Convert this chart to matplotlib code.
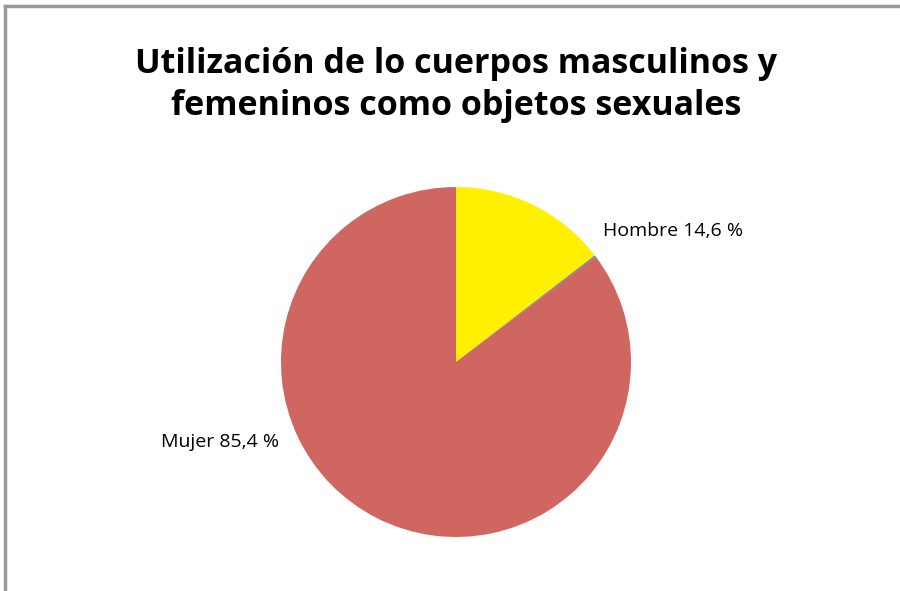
import matplotlib.pyplot as plt
from matplotlib.lines import Line2D

# data
categories = ['Hombre', '', 'Mujer']
values = [14.6, 0.12, 85.4]
labels = ['Hombre 14,6 %', '', 'Mujer 85,4 %']
colors = ['#FFF000', '#4F81BD', '#CF6660']
title = 'Utilización de lo cuerpos masculinos y\nfemeninos como objetos sexuales'

plt.rcParams['font.family'] = ['Open Sans', 'DejaVu Sans']

W, H = 900, 591
fig = plt.figure(figsize=(W / 100, H / 100), dpi=100)

# outer chart frame (only left and top edges visible)
fig.add_artist(Line2D([5 / W, 5 / W], [0, 1 - 6 / H], color='#999999', lw=2.5,
                      transform=fig.transFigure))
fig.add_artist(Line2D([5 / W, 1], [1 - 6 / H, 1 - 6 / H], color='#999999', lw=2.5,
                      transform=fig.transFigure))

fig.text(456 / W, 1 - 85 / H, title, ha='center', va='center', fontsize=24.5,
         fontweight='bold', linespacing=1.3)

cx, cy, r = 456, H - 362, 175
box = 200
ax = fig.add_axes([(cx - box) / W, (cy - box) / H, 2 * box / W, 2 * box / H])
ax.pie(values, colors=colors, startangle=90, counterclock=False, radius=r / box,
       wedgeprops={'linewidth': 0})
ax.set_xlim(-1, 1)
ax.set_ylim(-1, 1)
ax.set_aspect('equal')
ax.axis('off')

fig.text(603 / W, 1 - 231 / H, labels[0], ha='left', va='center', fontsize=14)
fig.text(279 / W, 1 - 442 / H, labels[2], ha='right', va='center', fontsize=14)

fig.savefig('out.png', dpi=100)
